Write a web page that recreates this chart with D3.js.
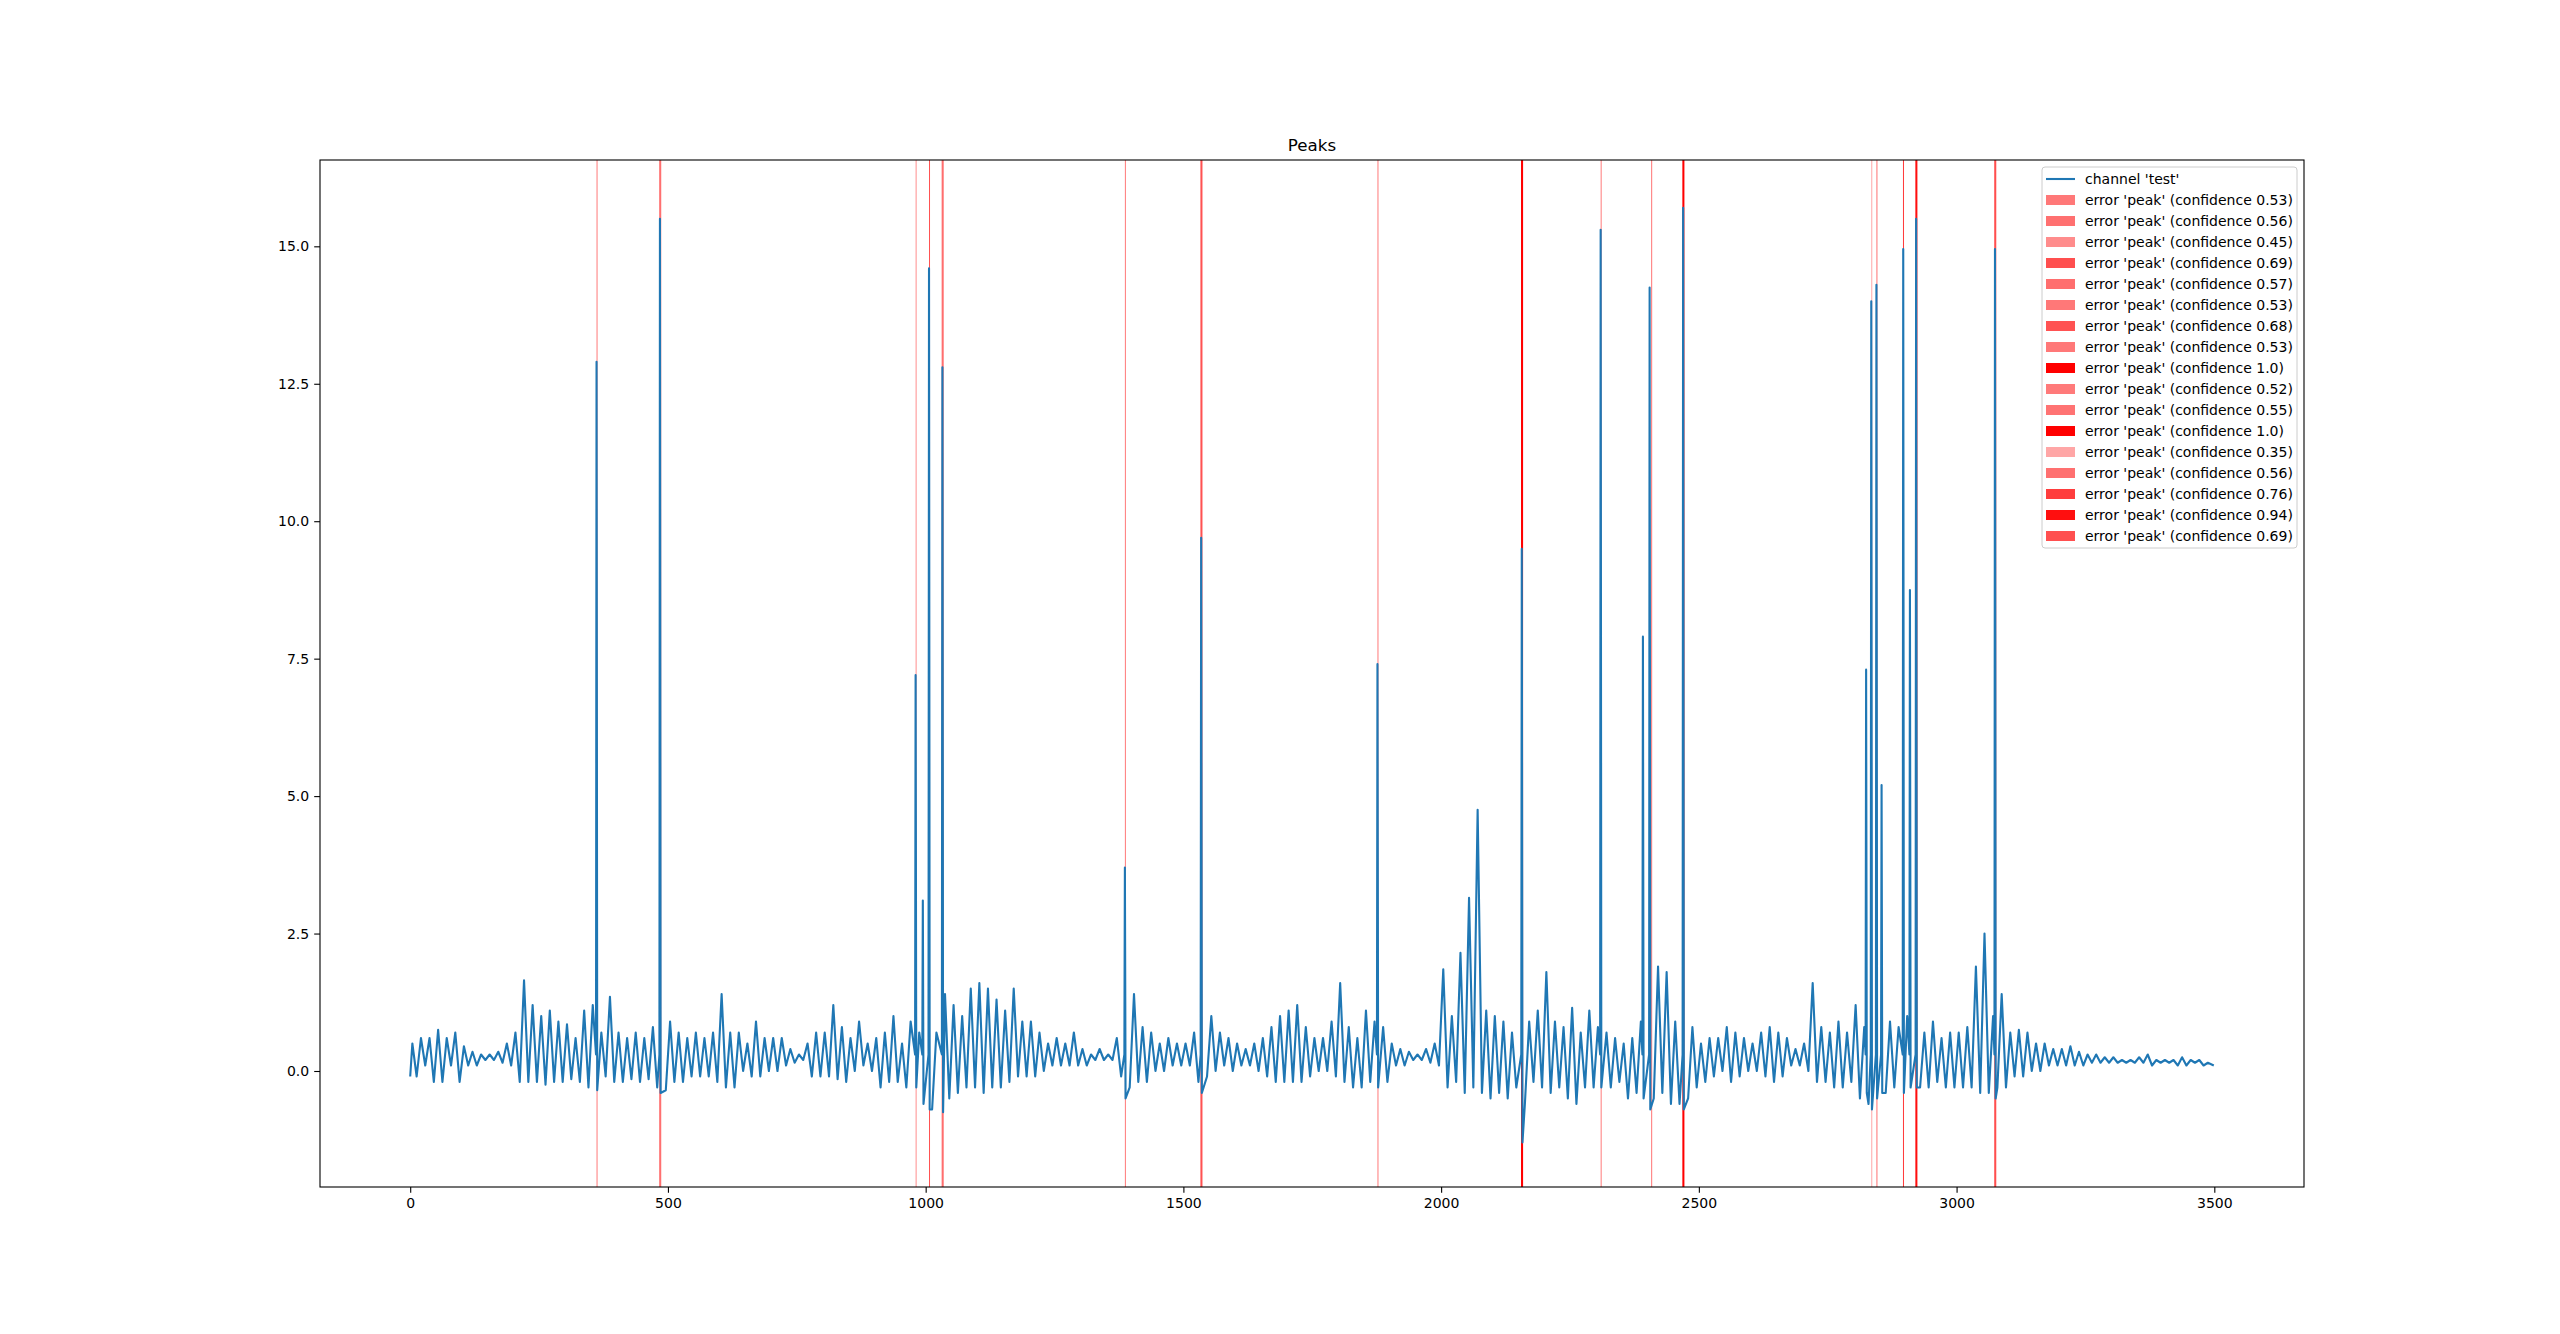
<!DOCTYPE html>
<html><head><meta charset="utf-8">
<script src="https://cdn.jsdelivr.net/npm/d3@7"></script>
<style>body{margin:0;background:#fff}text{font-family:"DejaVu Sans",sans-serif}</style>
</head><body><svg id="c" width="2560" height="1334"></svg>
<script>
// peak / trough values per 100-sample block (6 cycles each)
const peaks = [
[.5,.6,.6,.75,.6,.7],[.45,.35,.3,.3,.35,.5],[.7,1.65,1.2,1.0,1.1,.9],[.85,.6,1.1,1.2,.7,1.35],
[.7,.6,.7,.6,.8,.9],[.9,.7,.6,.7,.6,.7],[1.4,.7,.7,.5,.9,.6],[.6,.6,.4,.3,.5,.7],
[.7,1.2,.8,.6,.9,.5],[.6,.7,1.0,.5,.9,.7],[.9,.7,1.4,1.2,1.0,1.5],[1.6,1.5,1.3,1.1,1.5,.9],
[.9,.7,.5,.6,.5,.7],[.4,.3,.4,.3,.6,1.1],[1.4,.8,.7,.5,.6,.5],[.5,.7,.7,1.0,.7,.6],
[.5,.4,.5,.6,.8,1.0],[1.1,1.2,.8,.6,.6,.9],[1.6,.8,.6,1.1,.9,.8],[.5,.4,.35,.3,.4,.5],
[1.85,1.0,2.15,3.15,4.75,1.1],[1.0,.9,.7,1.0,.9,1.1],[1.8,.9,.8,1.15,.7,1.1],[.8,.7,.6,.5,.6,.9],
[2.0,1.9,1.8,.9,.8,.8],[.5,.6,.6,.8,.7,.6],[.5,.7,.8,.7,.6,.4],[.5,1.6,.8,.7,.9,.7],
[1.2,.8,.6,1.1,.9,.8],[1.0,.8,.7,.9,.6,.7],[.7,.8,1.9,2.5,1.0,1.4],[.7,.75,.7,.5,.5,.4],
[.4,.45,.35,.3,.3,.25],[.25,.2,.2,.25,.3,.2],[.2,.2,.25,.2,.2,.15]];
const troughs = [
[-.1,.1,-.2,-.2,.1,-.2],[.1,.1,.2,.2,.15,.1],[-.2,-.2,-.2,-.25,-.2,-.2],[-.15,-.2,-.3,-.35,-.1,-.2],
[-.2,-.15,-.2,-.15,-.3,-.35],[-.2,-.2,-.1,-.1,-.1,-.2],[-.3,-.3,0,-.1,-.1,0],[0,.1,.15,.2,-.1,-.1],
[-.1,-.15,-.2,0,.1,0],[-.3,-.2,-.2,-.3,-.3,-.4],[-.7,-.6,-.5,-.4,-.3,-.3],[-.4,-.3,-.3,-.2,-.1,-.1],
[-.1,0,.1,.1,.1,.1],[.1,.2,.2,.2,-.1,-.3],[-.2,-.2,0,0,.1,.1],[.1,-.2,-.1,0,.1,0],
[.1,.1,0,-.1,-.2,-.2],[-.2,-.2,-.1,0,0,-.1],[-.2,-.3,-.3,-.2,-.4,-.2],[.1,.1,.2,.2,.15,.1],
[-.3,-.2,-.4,-.3,-.4,-.5],[-.4,-.5,-.3,-.6,-.2,-.3],[-.4,-.3,-.5,-.6,-.3,-.3],[-.3,-.3,-.2,-.5,-.4,-.5],
[-.5,-.4,-.6,-.6,-.5,-.3],[-.2,-.1,0,-.2,-.1,0],[0,-.1,-.2,-.1,.1,.1],[0,-.2,-.2,-.3,-.3,-.2],
[-.5,-.6,-.5,-.4,-.3,-.3],[-.4,-.3,-.3,-.2,-.3,-.3],[-.3,-.3,-.4,-.4,-.3,-.3],[-.1,-.1,0,0,.1,.1],
[.1,.1,.1,.15,.15,.15],[.15,.15,.15,.15,.1,.15],[.15,.1,.1,.15,.1,.1]];
// spikes: [sample, peak value, following trough]
const spikes = [[362,12.9,-.35],[485,15.5,-.4],[981,7.2,-.3],[995,3.1,-.6],[1007,14.6,-.7],[1033,12.8,-.75],
[1387,3.7,-.5],[1535,9.7,-.4],[1877,7.4,-.3],[2157,9.5,-1.3],[2310,15.3,-.3],[2392,7.9,-.5],[2405,14.25,-.7],
[2470,15.7,-.7],[2825,7.3,-.4],[2835,14.0,-.7],[2845,14.3,-.5],[2855,5.2,-.4],[2897,14.95,-.4],[2910,8.75,-.3],
[2922,15.5,-.3],[3075,14.95,-.5]];
const errPos = [362,485,981,1007,1033,1387,1535,1877,2157,2310,2408,2470,2835,2845,2897,2922,3075];
const errWidth = [1,4,1,1,4,1,4,1,4,1,1,4,1,1,2,4,4];
const errConf = [0.53,0.56,0.45,0.69,0.57,0.53,0.68,0.53,1.0,0.52,0.55,1.0,0.35,0.56,0.76,0.94,0.69];
const xTicks = [0,500,1000,1500,2000,2500,3000,3500];
const yTicks = [0,2.5,5,7.5,10,12.5,15];

const L=320,R=2304,T=160,B=1187;
const svg=d3.select("#c");
const x=d3.scaleLinear().domain([-175,3674]).range([L,R]);
const y=d3.scaleLinear().domain([-2.11,16.57]).range([B,T]);

let pts=[[0,-0.1]];
peaks.forEach((blk,b)=>blk.forEach((p,k)=>{
  pts.push([b*100+(k+0.25)*100/6,p]);
  pts.push([b*100+(k+0.75)*100/6,troughs[b][k]]);
}));
pts=pts.filter(p=>p[0]<3495 && !spikes.some(s=>Math.abs(s[0]-p[0])<4));
spikes.forEach(s=>{pts.push([s[0]-1.5,0.3]);pts.push([s[0]-0.5,s[1]]);pts.push([s[0]+0.8,s[2]]);});
pts.push([3499,0.1]);
pts.sort((a,b)=>a[0]-b[0]);

const g=svg.append("g");
g.append("defs").append("clipPath").attr("id","cp").append("rect").attr("x",L).attr("y",T).attr("width",R-L).attr("height",B-T);
const plot=g.append("g").attr("clip-path","url(#cp)");
errPos.forEach((p,i)=>{
  const x0=x(p-errWidth[i]/2), x1=x(p+errWidth[i]/2);
  plot.append("rect").attr("x",x0).attr("y",T).attr("width",Math.max(x1-x0,1)).attr("height",B-T)
   .attr("fill","red").attr("fill-opacity",errConf[i]);
});
plot.append("path").datum(pts).attr("fill","none").attr("stroke","#1f77b4").attr("stroke-width",2.1)
 .attr("stroke-linejoin","round").attr("d",d3.line().x(d=>x(d[0])).y(d=>y(d[1])));
const xa=g.append("g").attr("transform",`translate(0,${B})`).call(d3.axisBottom(x).tickValues(xTicks).tickFormat(d3.format("d")).tickSize(5.8).tickPadding(5));
const ya=g.append("g").attr("transform",`translate(${L},0)`).call(d3.axisLeft(y).tickValues(yTicks).tickFormat(d3.format(".1f")).tickSize(5.8).tickPadding(5));
[xa,ya].forEach(a=>{a.select(".domain").remove();a.selectAll("text").attr("font-size",14).attr("fill","#000").style("font-family","DejaVu Sans");a.selectAll("line").attr("stroke","#000").attr("stroke-width",1.1);});
g.append("rect").attr("x",L).attr("y",T).attr("width",R-L).attr("height",B-T).attr("fill","none").attr("stroke","#000").attr("stroke-width",1.1);
g.append("text").attr("x",(L+R)/2).attr("y",151).attr("text-anchor","middle").attr("font-size",16.7).text("Peaks");

const lg=g.append("g");
lg.append("rect").attr("x",2042).attr("y",167).attr("width",255).attr("height",381).attr("rx",3)
 .attr("fill","#fff").attr("fill-opacity",0.8).attr("stroke","#ccc");
lg.append("line").attr("x1",2046).attr("x2",2075).attr("y1",179).attr("y2",179).attr("stroke","#1f77b4").attr("stroke-width",2.1);
lg.append("text").attr("x",2085).attr("y",184).attr("font-size",14).text("channel 'test'");
errConf.forEach((c,i)=>{
  const yy=179+21*(i+1);
  lg.append("rect").attr("x",2046).attr("y",yy-5).attr("width",29).attr("height",10).attr("fill","red").attr("fill-opacity",c);
  lg.append("text").attr("x",2085).attr("y",yy+5).attr("font-size",14).text(`error 'peak' (confidence ${c===1?"1.0":c})`);
});
</script></body></html>
